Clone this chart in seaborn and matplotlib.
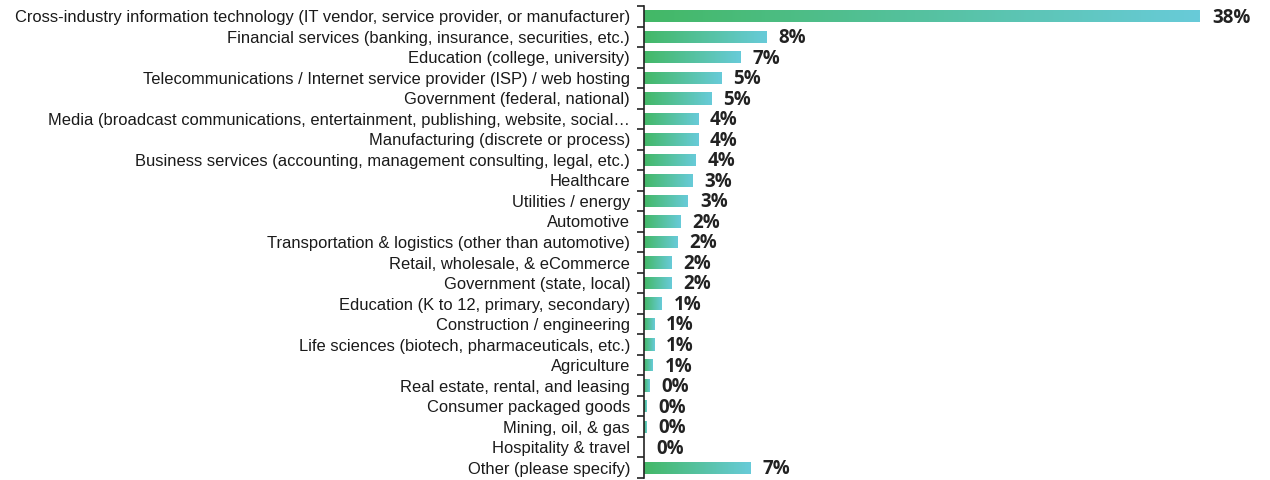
import numpy as np
import pandas as pd
import matplotlib
matplotlib.use("Agg")
import matplotlib.pyplot as plt
from matplotlib.colors import LinearSegmentedColormap
from matplotlib.ticker import FixedLocator
import seaborn as sns

industries = [
    "Cross-industry information technology (IT vendor, service provider, or manufacturer)",
    "Financial services (banking, insurance, securities, etc.)",
    "Education (college, university)",
    "Telecommunications / Internet service provider (ISP) / web hosting",
    "Government (federal, national)",
    "Media (broadcast communications, entertainment, publishing, website, social\u2026",
    "Manufacturing (discrete or process)",
    "Business services (accounting, management consulting, legal, etc.)",
    "Healthcare",
    "Utilities / energy",
    "Automotive",
    "Transportation & logistics (other than automotive)",
    "Retail, wholesale, & eCommerce",
    "Government (state, local)",
    "Education (K to 12, primary, secondary)",
    "Construction / engineering",
    "Life sciences (biotech, pharmaceuticals, etc.)",
    "Agriculture",
    "Real estate, rental, and leasing",
    "Consumer packaged goods",
    "Mining, oil, & gas",
    "Hospitality & travel",
    "Other (please specify)",
]
share_pct = [38.0, 8.4, 6.6, 5.3, 4.6, 3.7, 3.7, 3.5, 3.3, 3.0, 2.5, 2.3,
             1.9, 1.9, 1.2, 0.7, 0.7, 0.6, 0.35, 0.15, 0.15, 0.0, 7.3]

df = pd.DataFrame({"industry": industries, "share": share_pct})

sns.set_theme(style="white")
plt.rcParams["font.family"] = ["Liberation Sans", "DejaVu Sans"]

fig = plt.figure(figsize=(12.7, 4.8), dpi=100)
ax = fig.add_axes([644 / 1270, 2 / 480, (1265 - 644) / 1270, 472 / 480])

sns.barplot(data=df, x="share", y="industry", orient="h", width=0.6,
            color="#4cbf8a", ax=ax)

# left-to-right gradient fill for every bar
grad_cmap = LinearSegmentedColormap.from_list("gr", ["#43b866", "#68cbd9"])
grad = np.linspace(0, 1, 256).reshape(1, -1)
for patch in ax.patches:
    x0, y0 = patch.get_x(), patch.get_y()
    w, h = patch.get_width(), patch.get_height()
    patch.set_facecolor("none")
    patch.set_edgecolor("none")
    if w <= 0:
        continue
    im = ax.imshow(grad, cmap=grad_cmap, aspect="auto",
                   extent=(x0, x0 + w, y0 + h, y0), zorder=2,
                   interpolation="bilinear")
    im.set_clip_path(patch)

n = len(industries)
ax.set_xlim(0, 38.0 * (1265 - 644) / 556)
ax.set_ylim(n - 0.5, -0.5)

# value labels
for i, v in enumerate(share_pct):
    ax.annotate(f"{v:.0f}%", xy=(v, i), xytext=(8.6, -1),
                textcoords="offset points", ha="left", va="center",
                fontsize=13.5, fontweight="bold", color="#222222",
                family=["Open Sans", "DejaVu Sans"])

# axis styling
for s in ["top", "right", "bottom"]:
    ax.spines[s].set_visible(False)
ax.spines["left"].set_color("#222222")
ax.spines["left"].set_linewidth(1.2)
ax.set_xticks([])
ax.set_xlabel("")
ax.set_ylabel("")
ax.yaxis.set_minor_locator(FixedLocator(np.arange(-0.5, n, 1.0)))
ax.tick_params(axis="y", which="major", length=0, pad=10, labelsize=11.9,
               labelcolor="#1a1a1a")
ax.tick_params(axis="y", which="minor", left=True, length=5, width=1.2,
               color="#222222")
ax.set_facecolor("white")
fig.patch.set_facecolor("white")

fig.savefig("out.png", dpi=100)
